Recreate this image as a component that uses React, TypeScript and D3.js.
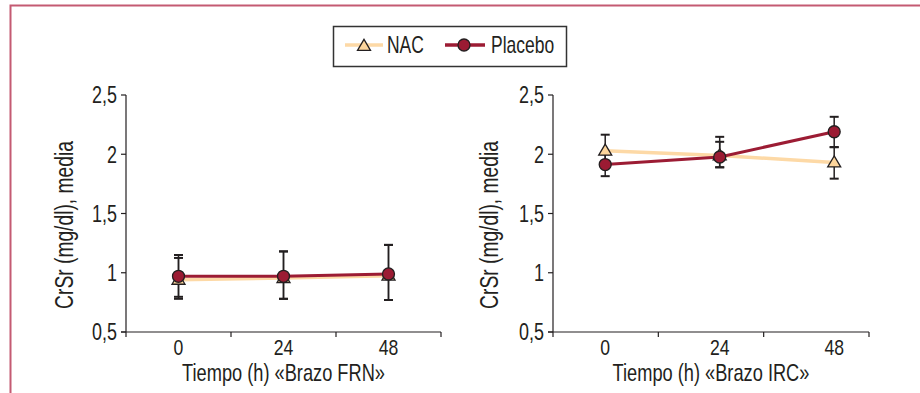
import React from "react";
import * as d3 from "d3";

const categories = ["0", "24", "48"];
const yTicks = [0.5, 1, 1.5, 2, 2.5];
const yTickLabels = ["0,5", "1", "1,5", "2", "2,5"];
const seriesNames = ["NAC", "Placebo"];

// Brazo FRN
const frnNAC = [0.94, 0.955, 0.975];
const frnNACLow = [0.78, 0.78, 0.77];
const frnNACHigh = [1.125, 1.18, 1.235];
const frnPlacebo = [0.97, 0.97, 0.99];
const frnPlaceboLow = [0.797, 0.78, 0.77];
const frnPlaceboHigh = [1.15, 1.18, 1.235];

// Brazo IRC
const ircNAC = [2.03, 1.99, 1.93];
const ircNACLow = [1.895, 1.89, 1.794];
const ircNACHigh = [2.165, 2.105, 2.06];
const ircPlacebo = [1.913, 1.977, 2.19];
const ircPlaceboLow = [1.815, 1.89, 2.06];
const ircPlaceboHigh = [2.0, 2.147, 2.316];

const FONT = "'Liberation Sans', Arial, sans-serif";
const NAC_LINE = "#fdd9a6";
const NAC_FILL = "#fcd59c";
const PLA_LINE = "#9c1c34";
const PLA_FILL = "#9b1b33";
const DARK = "#231f20";

type S = { v: number[]; lo: number[]; hi: number[] };

function NText({
  x, y, size, sx = 0.78, anchor = "start", rotate = 0, dy, children,
}: {
  x: number; y: number; size: number; sx?: number; anchor?: string; rotate?: number; dy?: string; children: React.ReactNode;
}) {
  return (
    <text
      transform={`translate(${x},${y}) rotate(${rotate}) scale(${sx},1)`}
      textAnchor={anchor}
      fontSize={size}
      fontFamily={FONT}
      fill={DARK}
      dy={dy}
    >
      {children}
    </text>
  );
}

function Triangle({ x, y }: { x: number; y: number }) {
  const h = 11, w = 13;
  const p = `M${x},${y - h * 0.6} L${x + w / 2},${y + h * 0.4} L${x - w / 2},${y + h * 0.4} Z`;
  return <path d={p} fill={NAC_FILL} stroke={DARK} strokeWidth={1.3} strokeLinejoin="miter" />;
}

function Circle({ x, y }: { x: number; y: number }) {
  return <circle cx={x} cy={y} r={6} fill={PLA_FILL} stroke={DARK} strokeWidth={1.3} />;
}

function Panel({
  x0, x1, padding, align, titleX, title, nac, pla,
}: {
  x0: number; x1: number; padding: number; align: number; titleX: number; title: string; nac: S; pla: S;
}) {
  const y = d3.scaleLinear().domain([0.5, 2.5]).range([332, 95]);
  const xp = d3.scalePoint<string>().domain(categories).range([x0, x1]).padding(padding).align(align);
  const xb = d3.scaleBand<string>().domain(categories).range([x0, x1]);
  const line = d3.line<number>().x((_, i) => xp(categories[i])!).y((d) => y(d));
  const boundaries = [x0, ...categories.slice(1).map((c) => xb(c)!), x1];
  const errBars = (s: S) =>
    categories.map((c, i) => {
      const cx = xp(c)!;
      return (
        <g key={c} stroke={DARK}>
          <line x1={cx} x2={cx} y1={y(s.lo[i])} y2={y(s.hi[i])} strokeWidth={1.5} />
          <line x1={cx - 4.5} x2={cx + 4.5} y1={y(s.lo[i])} y2={y(s.lo[i])} strokeWidth={2} />
          <line x1={cx - 4.5} x2={cx + 4.5} y1={y(s.hi[i])} y2={y(s.hi[i])} strokeWidth={2} />
        </g>
      );
    });
  const axisY = 332;
  return (
    <g>
      {/* y axis */}
      <line x1={x0} x2={x0} y1={y(2.5)} y2={axisY} stroke={DARK} strokeWidth={1.2} />
      {yTicks.map((t, i) => (
        <g key={t}>
          <line x1={x0 - 5} x2={x0} y1={y(t)} y2={y(t)} stroke={DARK} strokeWidth={1.2} />
          <NText x={x0 - 9} y={y(t)} dy="0.36em" anchor="end" size={23} sx={0.78}>
            {yTickLabels[i]}
          </NText>
        </g>
      ))}
      {/* x axis */}
      <line x1={x0 - 5} x2={x1} y1={axisY} y2={axisY} stroke={DARK} strokeWidth={1.2} />
      {boundaries.map((b, i) => (
        <line key={i} x1={b} x2={b} y1={axisY} y2={axisY + 5} stroke={DARK} strokeWidth={1.2} />
      ))}
      {categories.map((c) => (
        <NText key={c} x={xp(c)!} y={355} anchor="middle" size={22} sx={0.8}>
          {c}
        </NText>
      ))}
      <NText x={(x0 + x1) / 2} y={381} anchor="middle" size={24} sx={0.76}>
        {title}
      </NText>
      <NText x={titleX} y={225} anchor="middle" rotate={-90} size={25} sx={0.77}>
        CrSr (mg/dl), media
      </NText>
      {/* error bars */}
      {errBars(nac)}
      {errBars(pla)}
      {/* lines */}
      <path d={line(nac.v)!} fill="none" stroke={NAC_LINE} strokeWidth={3.5} />
      <path d={line(pla.v)!} fill="none" stroke={PLA_LINE} strokeWidth={3} />
      {/* markers */}
      {categories.map((c, i) => (
        <Triangle key={"t" + c} x={xp(c)!} y={y(nac.v[i])} />
      ))}
      {categories.map((c, i) => (
        <Circle key={"c" + c} x={xp(c)!} y={y(pla.v[i])} />
      ))}
    </g>
  );
}

export default function App() {
  return (
    <svg
      width={920}
      height={393}
      style={{ position: "absolute", left: 0, top: 0, background: "#fff" }}
    >
      <rect x={0} y={0} width={920} height={393} fill="#fff" />
      <rect x={10.5} y={5.5} width={1000} height={1000} fill="none" stroke="#c45a72" strokeWidth={2} />
      {/* legend */}
      <g>
        <rect x={333.5} y={26.5} width={233} height={40} fill="#fff" stroke="#333" strokeWidth={1.5} />
        <line x1={345} x2={383} y1={45} y2={45} stroke={NAC_LINE} strokeWidth={3.5} />
        <Triangle x={364} y={46} />
        <NText x={387} y={53} size={23} sx={0.76}>{seriesNames[0]}</NText>
        <line x1={445} x2={485} y1={45} y2={45} stroke={PLA_LINE} strokeWidth={3.5} />
        <Circle x={464} y={45} />
        <NText x={491} y={53} size={23} sx={0.76}>{seriesNames[1]}</NText>
      </g>
      <Panel
        x0={126}
        x1={441}
        padding={0.5}
        align={0.5}
        titleX={73}
        title="Tiempo (h) «Brazo FRN»"
        nac={{ v: frnNAC, lo: frnNACLow, hi: frnNACHigh }}
        pla={{ v: frnPlacebo, lo: frnPlaceboLow, hi: frnPlaceboHigh }}
      />
      <Panel
        x0={553}
        x1={869}
        padding={0.38}
        align={0.6}
        titleX={498}
        title="Tiempo (h) «Brazo IRC»"
        nac={{ v: ircNAC, lo: ircNACLow, hi: ircNACHigh }}
        pla={{ v: ircPlacebo, lo: ircPlaceboLow, hi: ircPlaceboHigh }}
      />
    </svg>
  );
}
